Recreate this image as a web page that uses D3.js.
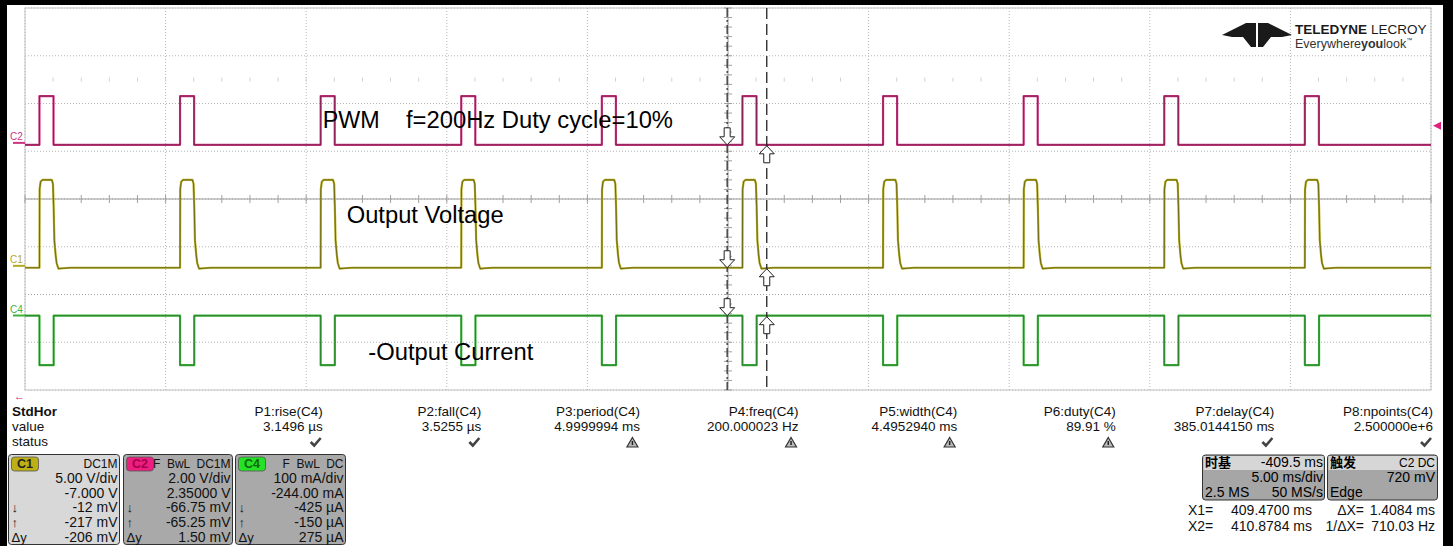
<!DOCTYPE html>
<html><head><meta charset="utf-8">
<script src="https://cdn.jsdelivr.net/npm/d3@7"></script>
<style>
html,body{margin:0;padding:0;background:#fff;}
svg{display:block;font-family:"Liberation Sans",Arial,sans-serif;}
</style></head><body>
<svg id="c" width="1453" height="546"></svg>
<script>
// ---------------- data ----------------
const timeDomain = [384.5, 434.5];            // ms on screen (10 div x 5 ms/div)
const gridTimes = [384.5, 389.5, 394.5, 399.5, 404.5, 409.5, 414.5, 419.5, 424.5, 429.5, 434.5];
const gridDivs = [-4, -3, -2, -1, 0, 1, 2, 3, 4];
const pulseStarts = [385.014, 390.014, 395.014, 400.014, 405.014, 410.014, 415.014, 420.014, 425.014, 430.014];
// C2 PWM (V)
const c2Setup = [2.00, 2.35];                 // V/div, offset
const c2Levels = [-0.08, 1.96];               // low, high
const c2Width = 0.5;                          // ms
// C1 output voltage (V): pulse shape relative to pulse start [ms, V]
const c1Setup = [5.00, -7.0];
const c1Base = -0.2;
const c1Shape = [[0,-0.2],[0.006,8.0],[0.04,8.8],[0.1,9.0],[0.44,9.0],[0.48,8.6],[0.505,6.2],[0.53,2.7],[0.575,1.15],[0.61,0.3],[0.675,-0.3],[0.84,-0.25],[1.1,-0.2]];
// C4 -output current (mA)
const c4Setup = [100, -244];
const c4Levels = [-104, -0.4];                // low, high
const c4Width = 0.505;
// cursors
const cursorTimes = [409.47, 410.8784];
const triggerLevel = 0.72;
// measurements
const measNames = ["P1:rise(C4)","P2:fall(C4)","P3:period(C4)","P4:freq(C4)","P5:width(C4)","P6:duty(C4)","P7:delay(C4)","P8:npoints(C4)"];
const measValues = ["3.1496 µs","3.5255 µs","4.9999994 ms","200.000023 Hz","4.4952940 ms","89.91 %","385.0144150 ms","2.500000e+6"];
const measStatus = ["ok","ok","warn","warn","warn","warn","ok","ok"];
const rowLabels = ["StdHor","value","status"];
// channel boxes
const chanBoxes = [
  {tag:"C1", head:"DC1M", rows:["5.00 V/div","-7.000 V","-12 mV","-217 mV","-206 mV"]},
  {tag:"C2", head:"F  BwL  DC1M", rows:["2.00 V/div","2.35000 V","-66.75 mV","-65.25 mV","1.50 mV"]},
  {tag:"C4", head:"F  BwL  DC", rows:["100 mA/div","-244.00 mA","-425 µA","-150 µA","275 µA"]}
];
const rowSymbols = ["","","↓","↑","Δy"];
const tbText = ["时基","-409.5 ms","5.00 ms/div","2.5 MS","50 MS/s"];
const trText = ["触发","C2 DC","720 mV","Edge"];
const cursorReadout = [["X1=","409.4700 ms","ΔX=","1.4084 ms"],["X2=","410.8784 ms","1/ΔX=","710.03 Hz"]];

// ---------------- layout ----------------
const svg = d3.select("#c");
const P = {left:25, right:1431, top:8, bottom:390};
const x = d3.scaleLinear().domain(timeDomain).range([P.left, P.right]);
const yDiv = d3.scaleLinear().domain([-4, 4]).range([P.bottom, P.top]);
function chanScale(setup){ const [vd, off] = setup; return d3.scaleLinear().domain([-4*vd - off, 4*vd - off]).range([P.bottom, P.top]); }
const y1 = chanScale(c1Setup), y2 = chanScale(c2Setup), y4 = chanScale(c4Setup);

svg.append("rect").attr("width",1453).attr("height",546).attr("fill","#fff");

// grid
const grid = svg.append("g");
gridTimes.forEach(t => {
  grid.append("line").attr("x1",x(t)).attr("x2",x(t)).attr("y1",P.top).attr("y2",P.bottom)
    .attr("stroke","#b4b4b4").attr("stroke-width",1).attr("stroke-dasharray","1,2");
});
gridDivs.forEach(d => {
  grid.append("line").attr("x1",P.left).attr("x2",P.right).attr("y1",yDiv(d)).attr("y2",yDiv(d))
    .attr("stroke", d===-2 ? "#a4a4a4" : "#b4b4b4").attr("stroke-width",1).attr("stroke-dasharray","1,2");
});
grid.append("rect").attr("x",P.left).attr("y",P.top).attr("width",P.right-P.left).attr("height",P.bottom-P.top)
  .attr("fill","none").attr("stroke","#c4c4c4");
// center axes with minor ticks
const tc = (timeDomain[0]+timeDomain[1])/2;
grid.append("line").attr("x1",P.left).attr("x2",P.right).attr("y1",yDiv(0)).attr("y2",yDiv(0)).attr("stroke","#9a9a9a");
grid.append("line").attr("x1",x(tc)).attr("x2",x(tc)).attr("y1",P.top).attr("y2",P.bottom).attr("stroke","#9a9a9a");
d3.range(timeDomain[0], timeDomain[1]+0.001, 1).forEach(t => {
  grid.append("line").attr("x1",x(t)).attr("x2",x(t)).attr("y1",yDiv(0)-4).attr("y2",yDiv(0)+4).attr("stroke","#a0a0a0");
  grid.append("line").attr("x1",x(t)).attr("x2",x(t)).attr("y1",yDiv(2.5)-2).attr("y2",yDiv(2.5)+2).attr("stroke","#d0d0d0");
});
d3.range(-4, 4.001, 0.2).forEach(d => {
  grid.append("line").attr("x1",x(tc)-4).attr("x2",x(tc)+4).attr("y1",yDiv(d)).attr("y2",yDiv(d)).attr("stroke","#a0a0a0");
});

// traces
svg.append("clipPath").attr("id","clip").append("rect").attr("x",P.left).attr("y",P.top).attr("width",P.right-P.left).attr("height",P.bottom-P.top);
const tg = svg.append("g").attr("clip-path","url(#clip)");
function drawTrace(points, ys, color, dark){
  const line = d3.line().x(d => x(d[0])).y(d => ys(d[1]));
  tg.append("path").attr("d",line(points)).attr("fill","none").attr("stroke",color).attr("stroke-width",2.2).attr("stroke-linejoin","round");
  tg.append("path").attr("d",line(points)).attr("fill","none").attr("stroke",dark).attr("stroke-width",1).attr("opacity",0.55);
}
// C2
let c2 = [[timeDomain[0], c2Levels[0]]];
pulseStarts.forEach(t => { c2.push([t,c2Levels[0]],[t,c2Levels[1]],[t+c2Width,c2Levels[1]],[t+c2Width,c2Levels[0]]); });
c2.push([timeDomain[1], c2Levels[0]]);
drawTrace(c2, y2, "#cc3580", "#4a1030");
// C1
let c1 = [[timeDomain[0], c1Base]];
pulseStarts.forEach(t => c1Shape.forEach(p => c1.push([t+p[0], p[1]])));
c1.push([timeDomain[1], c1Base]);
drawTrace(c1, y1, "#b3aa1e", "#3a3810");
// C4
let c4 = [[timeDomain[0], c4Levels[1]]];
pulseStarts.forEach(t => { c4.push([t,c4Levels[1]],[t,c4Levels[0]],[t+c4Width,c4Levels[0]],[t+c4Width,c4Levels[1]]); });
c4.push([timeDomain[1], c4Levels[1]]);
drawTrace(c4, y4, "#3cb43c", "#1f5a20");

// channel zero markers & labels
const labs = [["C2", y2(0), "#cc3580"],["C1", y1(0), "#b3aa1e"],["C4", y4(0), "#3cb43c"]];
labs.forEach(([t, yy, col]) => {
  svg.append("line").attr("x1",13).attr("x2",25).attr("y1",yy).attr("y2",yy).attr("stroke",col).attr("stroke-width",2);
  svg.append("text").attr("x",10).attr("y",yy-3).attr("font-size",10).attr("fill",col).text(t);
});
// trigger marker
svg.append("path").attr("d",`M${P.right+2},${y2(triggerLevel)} l8,-4 l0,8 z`).attr("fill","#e0207a");
// arrow at bottom-left
svg.append("text").attr("x",14).attr("y",400).attr("font-size",11).attr("fill","#d0207a").text("←");

// cursors
svg.append("line").attr("x1",x(cursorTimes[0])).attr("x2",x(cursorTimes[0])).attr("y1",P.top).attr("y2",P.bottom)
  .attr("stroke","#333").attr("stroke-width",1.3).attr("stroke-dasharray","9,3,2,3");
svg.append("line").attr("x1",x(cursorTimes[1])).attr("x2",x(cursorTimes[1])).attr("y1",P.top).attr("y2",P.bottom)
  .attr("stroke","#222").attr("stroke-width",1.3).attr("stroke-dasharray","11,5");
const arrowD = "M-3,-17 L3,-17 L3,-8 L7.5,-8 L0,0 L-7.5,-8 L-3,-8 Z";
[[y2, c2Levels[0]],[y1, c1Base],[y4, c4Levels[1]]].forEach(([ys, v]) => {
  svg.append("path").attr("d",arrowD).attr("transform",`translate(${x(cursorTimes[0])},${ys(v)})`)
    .attr("fill","#fff").attr("stroke","#222").attr("stroke-width",1);
  svg.append("path").attr("d",arrowD).attr("transform",`translate(${x(cursorTimes[1])},${ys(v)+1}) scale(1,-1)`)
    .attr("fill","#fff").attr("stroke","#222").attr("stroke-width",1);
});

// annotation texts
const ann = svg.append("g").attr("font-size",23).attr("fill","#000");
ann.append("text").attr("x",322.7).attr("y",127.7).attr("textLength",57).attr("lengthAdjust","spacingAndGlyphs").text("PWM");
ann.append("text").attr("x",406).attr("y",127.7).attr("textLength",267).attr("lengthAdjust","spacingAndGlyphs").text("f=200Hz Duty cycle=10%");
ann.append("text").attr("x",346.7).attr("y",223.3).attr("textLength",157).attr("lengthAdjust","spacingAndGlyphs").text("Output Voltage");
ann.append("text").attr("x",368.3).attr("y",360).attr("textLength",165).attr("lengthAdjust","spacingAndGlyphs").text("-Output Current");

// logo
const logo = svg.append("g").attr("fill","#1a1a1a");
logo.append("path").attr("d","M1222,35 L1246,23 L1256,23 L1256,47 L1251,47 L1243,37 L1232,37 Z");
logo.append("path").attr("d","M1292,35 L1268,23 L1258,23 L1258,47 L1263,47 L1271,37 L1282,37 Z");
function seqText(parts, x0, y0){
  let cx = x0;
  parts.forEach(p => {
    const t = logo.append("text").attr("x",cx).attr("y",y0 + (p.dy||0)).attr("font-size",p.fs)
      .attr("font-weight",p.bold?"bold":"normal").attr("fill",p.fill||"#1a1a1a").text(p.t);
    cx += t.node().getComputedTextLength() + (p.gap||0);
  });
}
seqText([{t:"TELEDYNE",fs:13.5,bold:true,gap:4},{t:"LECROY",fs:13.5}], 1295, 34);
seqText([{t:"Everywhere",fs:12.5,fill:"#333"},{t:"you",fs:12.5,bold:true,fill:"#333"},{t:"look",fs:12.5,fill:"#333"},{t:"™",fs:6,dy:-6,fill:"#333"}], 1295, 48);

// measurement table
const mt = svg.append("g").attr("font-size",13.5).attr("fill","#111");
const rowY = [416, 431, 446];
rowLabels.forEach((r,i) => mt.append("text").attr("x",12).attr("y",rowY[i]).attr("font-weight", i===0?"bold":"normal").text(r));
const colX = d3.scaleLinear().domain([0, measNames.length-1]).range([322.7, 1433]);
measNames.forEach((n,i) => {
  mt.append("text").attr("x",colX(i)).attr("y",rowY[0]).attr("text-anchor","end").text(n);
  mt.append("text").attr("x",colX(i)).attr("y",rowY[1]).attr("text-anchor","end").text(measValues[i]);
  const cx = colX(i) - 2, cy = 443;
  if (measStatus[i] === "ok") {
    svg.append("path").attr("d",`M${cx-10},${cy-1} L${cx-6.5},${cy+2.5} L${cx},${cy-5}`).attr("fill","none").attr("stroke","#444").attr("stroke-width",2.6);
  } else {
    svg.append("path").attr("d",`M${cx-5.5},${cy-5.5} L${cx},${cy+4} L${cx-11},${cy+4} Z`).attr("fill","#bbb").attr("stroke","#333").attr("stroke-width",1.2);
    svg.append("line").attr("x1",cx-5.5).attr("x2",cx-5.5).attr("y1",cy-2).attr("y2",cy+2).attr("stroke","#222").attr("stroke-width",1.5);
  }
});

// channel boxes
const boxX = [8.5, 123.5, 235.5], boxW = [111, 109, 110];
const tagCol = ["#bcb014","#ec1e80","#26e226"], tagTxt = ["#222","#a8004c","#116611"];
const boxFill = ["#d8d8d8","#a9a9a9","#a9a9a9"];
const boxRowsY = [468, 483, 498, 512, 527, 542];
chanBoxes.forEach((b,i) => {
  const g = svg.append("g");
  g.append("rect").attr("x",boxX[i]).attr("y",454.5).attr("width",boxW[i]).attr("height",90).attr("rx",3)
    .attr("fill",boxFill[i]).attr("stroke","#333");
  g.append("rect").attr("x",boxX[i]+3).attr("y",457).attr("width",27).attr("height",14).attr("rx",3)
    .attr("fill",tagCol[i]).attr("stroke","#555").attr("stroke-width",0.8);
  g.append("text").attr("x",boxX[i]+16.5).attr("y",468).attr("text-anchor","middle").attr("font-size",12.5).attr("font-weight","bold").attr("fill",tagTxt[i]).text(b.tag);
  const rx = boxX[i] + boxW[i] - 2;
  g.append("text").attr("x",rx).attr("y",boxRowsY[0]).attr("text-anchor","end").attr("font-size",12).attr("fill","#111").style("white-space","pre").text(b.head);
  b.rows.forEach((r,j) => {
    g.append("text").attr("x",rx).attr("y",boxRowsY[j+1]).attr("text-anchor","end").attr("font-size",14).attr("fill","#111").text(r);
    if (rowSymbols[j]) g.append("text").attr("x",boxX[i]+3).attr("y",boxRowsY[j+1]).attr("font-size",13).attr("fill","#111").text(rowSymbols[j]);
  });
});

// timebase & trigger boxes
function infoBox(x0, w){
  const g = svg.append("g");
  g.append("rect").attr("x",x0).attr("y",455).attr("width",w).attr("height",45).attr("rx",3).attr("fill","#a6a6a6").attr("stroke","#333");
  g.append("rect").attr("x",x0+1).attr("y",456).attr("width",w-2).attr("height",14).attr("fill","#d6d6d6");
  return g;
}
const tb = infoBox(1202.5, 122);
tb.append("text").attr("x",1205).attr("y",467).attr("font-size",13).attr("font-weight","bold").attr("font-family","Noto Sans CJK SC").text(tbText[0]);
tb.append("text").attr("x",1323).attr("y",467).attr("text-anchor","end").attr("font-size",14).text(tbText[1]);
tb.append("text").attr("x",1323).attr("y",482).attr("text-anchor","end").attr("font-size",14).text(tbText[2]);
tb.append("text").attr("x",1205).attr("y",497).attr("font-size",14).text(tbText[3]);
tb.append("text").attr("x",1323).attr("y",497).attr("text-anchor","end").attr("font-size",14).text(tbText[4]);
const tr = infoBox(1327.5, 110);
tr.append("text").attr("x",1330).attr("y",467).attr("font-size",13).attr("font-weight","bold").attr("font-family","Noto Sans CJK SC").text(trText[0]);
tr.append("text").attr("x",1435).attr("y",467).attr("text-anchor","end").attr("font-size",12).text(trText[1]);
tr.append("text").attr("x",1435).attr("y",482).attr("text-anchor","end").attr("font-size",14).text(trText[2]);
tr.append("text").attr("x",1330).attr("y",497).attr("font-size",14).text(trText[3]);

const cr = svg.append("g").attr("font-size",14).attr("fill","#111");
cursorReadout.forEach((r,i) => {
  const yy = 515 + i*15.5;
  cr.append("text").attr("x",1188).attr("y",yy).text(r[0]);
  cr.append("text").attr("x",1312).attr("y",yy).attr("text-anchor","end").text(r[1]);
  cr.append("text").attr("x",1364).attr("y",yy).attr("text-anchor","end").text(r[2]);
  cr.append("text").attr("x",1435).attr("y",yy).attr("text-anchor","end").text(r[3]);
});

// screen bezel
svg.append("rect").attr("x",0).attr("y",0).attr("width",7).attr("height",546).attr("fill","#000");
svg.append("rect").attr("x",0).attr("y",0).attr("width",1453).attr("height",5).attr("fill","#000");
svg.append("rect").attr("x",1443).attr("y",0).attr("width",10).attr("height",546).attr("fill","#000");
</script>
</body></html>
